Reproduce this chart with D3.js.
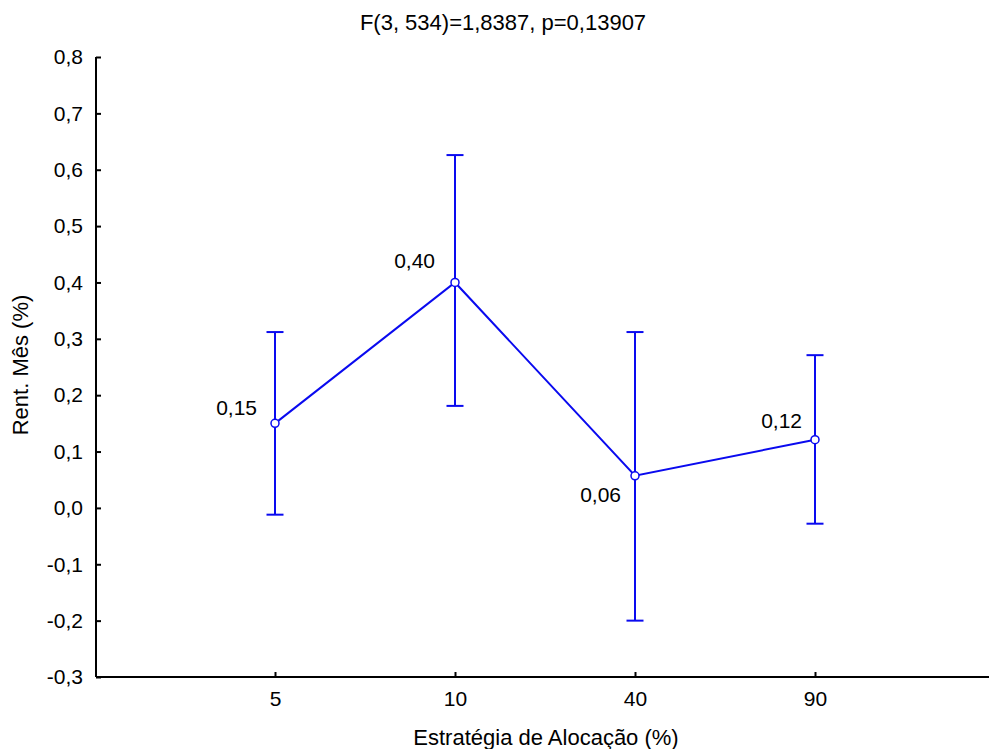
<!DOCTYPE html>
<html><head><meta charset="utf-8">
<script src="https://cdn.jsdelivr.net/npm/d3@7"></script>
<style>body{margin:0;background:#fff}svg{display:block}text{font-family:"Liberation Sans",Arial,sans-serif;fill:#000}</style>
</head><body>
<script>
const categories = ["5", "10", "40", "90"];
const means = [0.15, 0.40, 0.057, 0.121];
const upper = [0.312, 0.626, 0.312, 0.271];
const lower = [-0.012, 0.181, -0.200, -0.028];
const meanLabels = ["0,15", "0,40", "0,06", "0,12"];
const yTicks = [-0.3, -0.2, -0.1, 0.0, 0.1, 0.2, 0.3, 0.4, 0.5, 0.6, 0.7, 0.8];
const title = "F(3, 534)=1,8387, p=0,13907";
const xTitle = "Estratégia de Alocação (%)";
const yTitle = "Rent. Mês (%)";

const W = 989, H = 749;
const svg = d3.select("body").append("svg").attr("width", W).attr("height", H);
const x = d3.scaleLinear().domain([0, 5]).range([95, 995]);
const y = d3.scaleLinear().domain([-0.3, 0.8]).range([677, 57]);
const fmt = v => d3.format(".1f")(v).replace(".", ",").replace("−", "-");

// y axis
const ya = d3.axisLeft(y).tickValues(yTicks).tickSize(-5).tickPadding(13).tickFormat(fmt);
const gy = svg.append("g").attr("transform", "translate(96,0)").call(ya);
gy.select(".domain").attr("stroke", "#000").attr("stroke-width", 2).attr("d", `M0,${y(0.8)}V${y(-0.3)}`);
gy.selectAll(".tick line").attr("stroke", "#000").attr("stroke-width", 2);
gy.selectAll(".tick text").style("font-size", "21px").attr("fill", "#000");

// x axis
const xa = d3.axisBottom(x).tickValues([1, 2, 3, 4]).tickSize(-5).tickPadding(14).tickFormat((d, i) => categories[i]);
const gx = svg.append("g").attr("transform", `translate(0,${y(-0.3)})`).call(xa);
gx.select(".domain").attr("stroke", "#000").attr("stroke-width", 2).attr("d", `M96,0H${W}`);
gx.selectAll(".tick line").attr("stroke", "#000").attr("stroke-width", 2);
gx.selectAll(".tick text").style("font-size", "21px").attr("fill", "#000");

const blue = "#0a0aef";
const idx = categories.map((c, i) => i);
// error bars
const eb = svg.append("g").attr("stroke", blue).attr("stroke-width", 2).attr("fill", "none");
idx.forEach(i => {
  const cx = x(i + 1);
  eb.append("line").attr("x1", cx).attr("x2", cx).attr("y1", y(upper[i])).attr("y2", y(lower[i]));
  eb.append("line").attr("x1", cx - 8.5).attr("x2", cx + 8.5).attr("y1", y(upper[i])).attr("y2", y(upper[i]));
  eb.append("line").attr("x1", cx - 8.5).attr("x2", cx + 8.5).attr("y1", y(lower[i])).attr("y2", y(lower[i]));
});
// mean line
svg.append("path").datum(idx)
  .attr("d", d3.line().x(i => x(i + 1)).y(i => y(means[i])))
  .attr("fill", "none").attr("stroke", blue).attr("stroke-width", 2);
svg.selectAll("circle.m").data(idx).join("circle")
  .attr("cx", i => x(i + 1)).attr("cy", i => y(means[i])).attr("r", 4)
  .attr("fill", "#fff").attr("stroke", blue).attr("stroke-width", 1.5);

// labels
const off = [[-18, -8], [-20, -14], [-14, 26], [-13, -12]];
svg.selectAll("text.lab").data(idx).join("text")
  .attr("x", i => x(i + 1) + off[i][0]).attr("y", i => y(means[i]) + off[i][1])
  .attr("text-anchor", "end").style("font-size", "21px").text(i => meanLabels[i]);

svg.append("text").attr("x", 503).attr("y", 30).attr("text-anchor", "middle").style("font-size", "22px").text(title);
svg.append("text").attr("x", 546).attr("y", 745).attr("text-anchor", "middle").style("font-size", "22px").text(xTitle);
svg.append("text").attr("transform", "translate(28,365) rotate(-90)").attr("text-anchor", "middle").style("font-size", "22px").text(yTitle);
</script>
</body></html>
